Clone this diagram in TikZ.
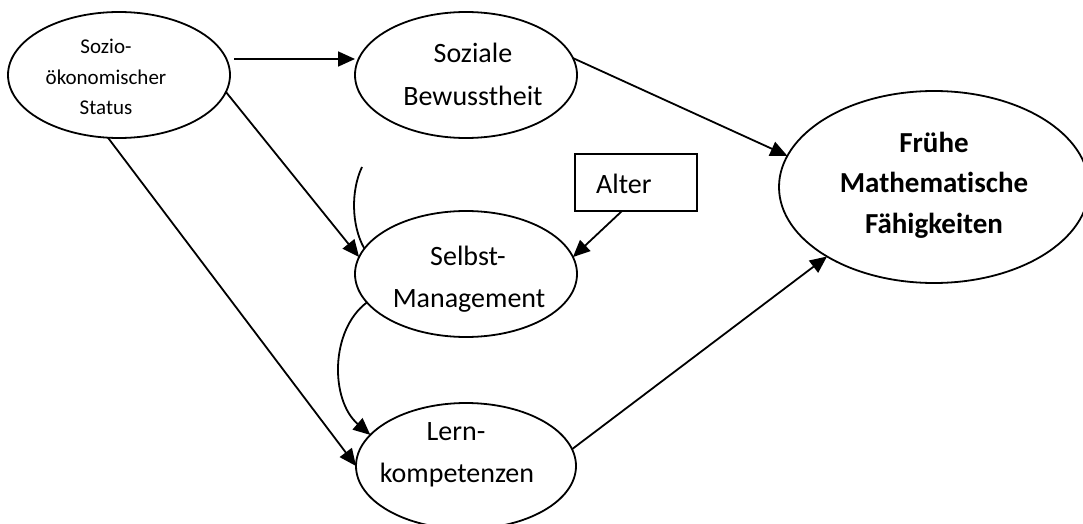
\documentclass[tikz,border=0pt]{standalone}
\usepackage{fontspec}
\setmainfont{Carlito}[Ligatures=NoCommon]
\usetikzlibrary{arrows.meta,shapes.geometric}
\begin{document}
\begin{tikzpicture}[x=1pt,y=-1pt,
  oval/.style={draw, ellipse, line width=1.8pt, inner sep=0pt, outer sep=0pt},
  boxnode/.style={draw, rectangle, line width=1.8pt, inner sep=0pt, outer sep=0pt},
  txt/.style={anchor=base, inner sep=0pt, font=\fontsize{28pt}{34pt}\selectfont},
  smalltxt/.style={anchor=base, inner sep=0pt, font=\fontsize{21pt}{25pt}\selectfont},
  boldtxt/.style={anchor=base, inner sep=0pt, font=\fontsize{29pt}{35pt}\selectfont\bfseries},
  link/.style={line width=1.8pt},
  arr/.style={link, -{Triangle[length=17pt,width=15pt]}}]
\useasboundingbox (0,0) rectangle (1083,524);

% ellipses and the box
\node[oval, minimum width=222pt, minimum height=126pt] (ses) at (119,75) {};
\node[oval, minimum width=222pt, minimum height=126pt] (soz) at (466,75) {};
\node[oval, minimum width=222pt, minimum height=126pt] (sm)  at (466,274) {};
\node[oval, minimum width=220pt, minimum height=126pt] (lk)  at (466,466) {};
\node[oval, minimum width=310pt, minimum height=192pt] (mf)  at (934,187) {};
\node[boxnode, minimum width=122pt, minimum height=57pt] (alter) at (636,182.5) {};

% labels
\node[smalltxt] (ses1) at (106,54) {Sozio-};
\node[smalltxt] (ses2) at (106,85) {ökonomischer};
\node[smalltxt] (ses3) at (106,114) {Status};
\node[txt] (soz1) at (473,63) {Soziale};
\node[txt] (soz2) at (473,106) {Bewusstheit};
\node[txt] (sm1) at (468,265) {Selbst-};
\node[txt] (sm2) at (469,307) {Management};
\node[txt] (lk1) at (456,440) {Lern-};
\node[txt] (lk2) at (457,482) {kompetenzen};
\node[boldtxt] (mf1) at (934,152) {Frühe};
\node[boldtxt] (mf2) at (934,192) {Mathematische};
\node[boldtxt] (mf3) at (934,233) {Fähigkeiten};
\node[txt, anchor=base west] (alterT) at (596,193) {Alter};

% paths
\draw[arr] ([xshift=4pt,yshift=16pt]ses.east) -- ([yshift=16pt]soz.west);
\draw[arr] (ses.-9) -- (sm.171);
\draw[arr] (ses.260) -- (lk.west);
\draw[arr] (soz.9) -- (mf.168);
\draw[arr] ([xshift=-14pt]alter.south) -- (sm.9);
\draw[arr] (lk.9) -- (mf.213);
\coordinate (arcEnd) at (362,167);
\draw[link] (arcEnd) .. controls (351,190) and (351,225) .. (sm.166);
\draw[arr] (sm.196) .. controls (330,330) and (330,400) .. (lk.162);
\end{tikzpicture}
\end{document}
